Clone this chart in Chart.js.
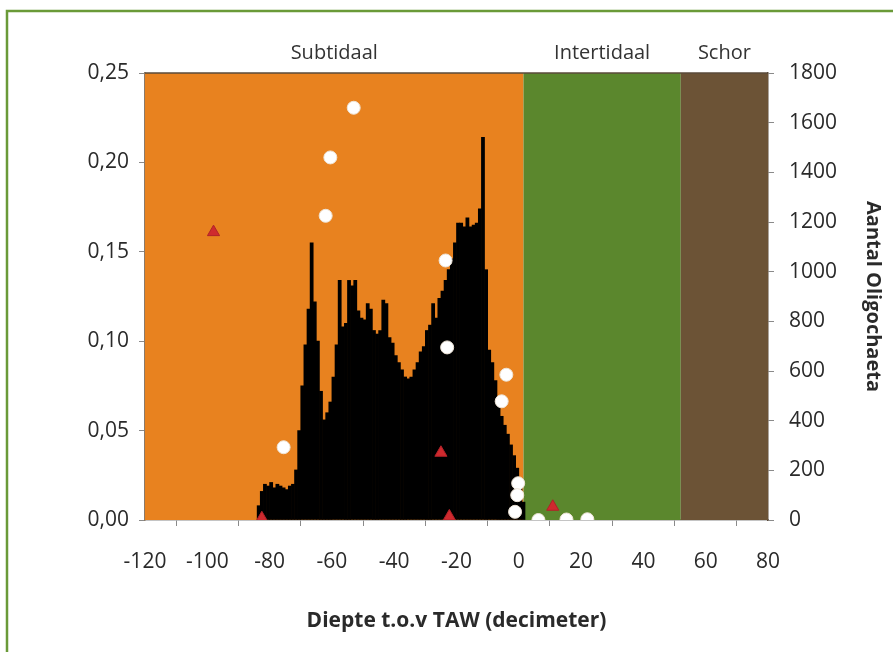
<!DOCTYPE html>
<html>
<head>
<meta charset="utf-8">
<script src="https://cdn.jsdelivr.net/npm/chart.js@4"></script>
<style>
  html, body { margin: 0; padding: 0; background: #fff; }
  #wrap { position: relative; width: 893px; height: 652px; }
</style>
</head>
<body>
<div id="wrap"><canvas id="chart" width="893" height="652"></canvas></div>
<script>
// depth bins (decimeter t.o.v. TAW), centre of each 1 dm class
const depth = [
  -83.5, -82.5, -81.5, -80.5, -79.5, -78.5, -77.5, -76.5, -75.5, -74.5,
  -73.5, -72.5, -71.5, -70.5, -69.5, -68.5, -67.5, -66.5, -65.5, -64.5,
  -63.5, -62.5, -61.5, -60.5, -59.5, -58.5, -57.5, -56.5, -55.5, -54.5,
  -53.5, -52.5, -51.5, -50.5, -49.5, -48.5, -47.5, -46.5, -45.5, -44.5,
  -43.5, -42.5, -41.5, -40.5, -39.5, -38.5, -37.5, -36.5, -35.5, -34.5,
  -33.5, -32.5, -31.5, -30.5, -29.5, -28.5, -27.5, -26.5, -25.5, -24.5,
  -23.5, -22.5, -21.5, -20.5, -19.5, -18.5, -17.5, -16.5, -15.5, -14.5,
  -13.5, -12.5, -11.5, -10.5, -9.5, -8.5, -7.5, -6.5, -5.5, -4.5,
  -3.5, -2.5, -1.5, -0.5, 0.5, 1.5
];
// fraction of the area per depth class (left axis)
const fraction = [
  0.008, 0.016, 0.020, 0.019, 0.021, 0.018, 0.020, 0.019, 0.018, 0.017,
  0.019, 0.020, 0.028, 0.050, 0.075, 0.098, 0.118, 0.155, 0.122, 0.100,
  0.072, 0.056, 0.060, 0.066, 0.080, 0.098, 0.134, 0.108, 0.110, 0.134,
  0.131, 0.134, 0.117, 0.113, 0.112, 0.121, 0.118, 0.106, 0.104, 0.106,
  0.123, 0.121, 0.102, 0.099, 0.092, 0.088, 0.084, 0.080, 0.079, 0.080,
  0.084, 0.088, 0.094, 0.097, 0.106, 0.109, 0.121, 0.113, 0.124, 0.128,
  0.134, 0.140, 0.146, 0.155, 0.166, 0.166, 0.164, 0.169, 0.164, 0.165,
  0.166, 0.174, 0.214, 0.140, 0.095, 0.088, 0.078, 0.068, 0.058, 0.053,
  0.048, 0.042, 0.036, 0.029, 0.020, 0.010
];

// Aantal Oligochaeta per staal (right axis)
const oligoDepth = [-53, -60.5, -62, -75.5, -23.5, -23, -4, -5.5, -0.2, -0.5, -1.2, 6.3, 15.3, 22];
const oligoCount = [1660, 1460, 1225, 293, 1045, 695, 585, 478, 148, 100, 33, 0, 2, 3];

// second series (left axis)
const triDepth = [-98, -82.5, -25, -22.3, 10.9];
const triValue = [0.161, 0.001, 0.0376, 0.002, 0.0074];

// zones
const zoneNames = ['Subtidaal', 'Intertidaal', 'Schor'];
const zoneFrom = [-120, 1.5, 52];
const zoneTo = [1.5, 52, 80];
const zoneColors = ['#e8821f', '#5b872d', '#6c5336'];

const FONT = "'Open Sans', 'Noto Sans', sans-serif";
const TXT = '#2a2a2a';

const zonePlugin = {
  id: 'zones',
  beforeDraw(chart) {
    const ctx = chart.ctx;
    // green frame
    ctx.save();
    ctx.strokeStyle = '#6a9a38';
    ctx.lineWidth = 2.5;
    ctx.beginPath();
    ctx.moveTo(7, 660);
    ctx.lineTo(7, 11);
    ctx.lineTo(900, 11);
    ctx.stroke();
    ctx.restore();
  },
  beforeDatasetsDraw(chart) {
    const ctx = chart.ctx;
    const x = chart.scales.x;
    const area = chart.chartArea;
    ctx.save();
    for (let i = 0; i < zoneNames.length; i++) {
      const x0 = x.getPixelForValue(zoneFrom[i]);
      const x1 = x.getPixelForValue(zoneTo[i]);
      ctx.fillStyle = zoneColors[i];
      ctx.fillRect(x0, area.top, x1 - x0, area.bottom - area.top);
      ctx.fillStyle = '#333';
      ctx.font = '20px ' + FONT;
      ctx.textAlign = 'center';
      ctx.textBaseline = 'middle';
      ctx.fillText(zoneNames[i], (x0 + x1) / 2, 53);
    }
    // dark top edge of plot
    ctx.strokeStyle = '#5a4a3a';
    ctx.lineWidth = 1.5;
    ctx.beginPath();
    ctx.moveTo(area.left, area.top);
    ctx.lineTo(area.right, area.top);
    ctx.stroke();
    ctx.restore();
  }
};

const barData = depth.map((d, i) => ({ x: d, y: fraction[i] }));
const oligoData = oligoDepth.map((d, i) => ({ x: d, y: oligoCount[i] }));
const triData = triDepth.map((d, i) => ({ x: d, y: triValue[i] }));

new Chart(document.getElementById('chart'), {
  type: 'bar',
  data: {
    datasets: [
      {
        type: 'scatter',
        data: oligoData,
        yAxisID: 'y2',
        pointRadius: 6.5,
        pointBackgroundColor: '#ffffff',
        pointBorderColor: '#eee4d6',
        pointBorderWidth: 1,
        order: 1
      },
      {
        type: 'scatter',
        data: triData,
        yAxisID: 'y',
        pointStyle: 'triangle',
        pointRadius: 7,
        pointBackgroundColor: '#cf2a2e',
        pointBorderColor: '#b02228',
        pointBorderWidth: 1,
        order: 2
      },
      {
        type: 'bar',
        data: barData,
        yAxisID: 'y',
        backgroundColor: '#000000',
        borderWidth: 0,
        barPercentage: 1,
        categoryPercentage: 1,
        order: 3
      }
    ]
  },
  options: {
    responsive: false,
    animation: false,
    layout: { padding: { top: 73, left: 0, right: 0, bottom: 0 } },
    plugins: { legend: { display: false }, tooltip: { enabled: false } },
    scales: {
      x: {
        type: 'linear',
        min: -120,
        max: 80,
        offset: false,
        afterFit: (s) => { s.height = 132; },
        ticks: {
          stepSize: 20,
          color: TXT,
          padding: 23,
          font: { family: FONT, size: 21 }
        },
        grid: { drawOnChartArea: false, drawTicks: true, tickLength: 6, color: '#8a8a8a' },
        border: { display: true, color: '#8a8a8a', width: 1.5 },
        title: {
          display: true,
          text: 'Diepte t.o.v TAW (decimeter)',
          color: TXT,
          padding: { top: 0, bottom: 18 },
          font: { family: FONT, size: 21, weight: 'bold' }
        }
      },
      y: {
        position: 'left',
        min: 0,
        max: 0.25,
        afterFit: (s) => { s.width = 145; },
        ticks: {
          stepSize: 0.05,
          color: TXT,
          padding: 10,
          font: { family: FONT, size: 21 },
          callback: (v) => v.toFixed(2).replace('.', ',')
        },
        grid: { drawOnChartArea: false, drawTicks: true, tickLength: 6, color: '#8a8a8a' },
        border: { display: true, color: '#8a7a6a', width: 1.5 }
      },
      y2: {
        position: 'right',
        min: 0,
        max: 1800,
        afterFit: (s) => { s.width = 125; },
        ticks: {
          stepSize: 200,
          color: TXT,
          padding: 15,
          font: { family: FONT, size: 21 },
          callback: (v) => String(v)
        },
        grid: { drawOnChartArea: false, drawTicks: true, tickLength: 6, color: '#8a8a8a' },
        border: { display: true, color: '#5a4a3a', width: 1.5 },
        title: {
          display: true,
          text: 'Aantal Oligochaeta',
          color: TXT,
          padding: { top: 8, bottom: 0 },
          font: { family: FONT, size: 20, weight: 'bold' }
        }
      }
    }
  },
  plugins: [zonePlugin]
});
</script>
</body>
</html>
